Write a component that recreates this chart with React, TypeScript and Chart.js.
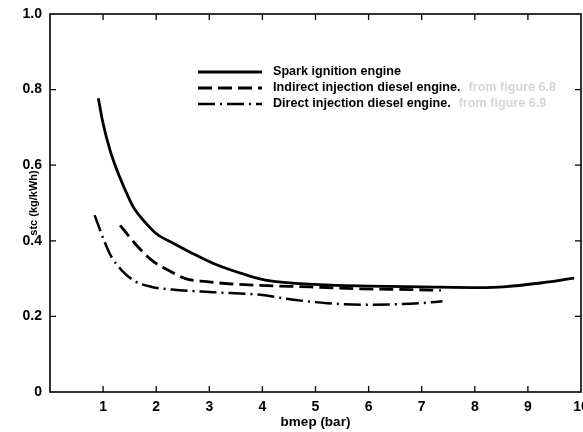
import React, { useEffect, useRef } from "react";
import { Chart, registerables } from "chart.js";

Chart.register(...registerables);

// ---- data (bmep in bar, sfc in kg/kWh) ----
const sparkX = [0.91, 1.0, 1.13, 1.26, 1.42, 1.57, 1.76, 2.01, 2.33, 2.64, 3.08, 3.71, 4.06, 5.06, 6.0, 7.0, 8.1, 8.6, 9.15, 9.87];
const sparkY = [0.777, 0.71, 0.64, 0.587, 0.533, 0.489, 0.454, 0.418, 0.393, 0.37, 0.34, 0.309, 0.296, 0.284, 0.28, 0.278, 0.276, 0.279, 0.287, 0.301];

const indirectX = [1.32, 1.6, 1.92, 2.23, 2.55, 2.95, 3.3, 3.96, 4.91, 5.85, 6.79, 7.36];
const indirectY = [0.441, 0.393, 0.348, 0.322, 0.3, 0.292, 0.287, 0.282, 0.278, 0.273, 0.271, 0.269];

const directX = [0.84, 1.04, 1.16, 1.35, 1.6, 1.92, 2.3, 3.08, 3.96, 4.59, 5.22, 5.85, 6.48, 6.98, 7.39];
const directY = [0.468, 0.393, 0.357, 0.322, 0.293, 0.278, 0.271, 0.264, 0.257, 0.244, 0.235, 0.231, 0.232, 0.235, 0.24];

const seriesNames = ["Spark ignition engine", "Indirect injection diesel engine.", "Direct injection diesel engine."];
const seriesNotes = ["", "from figure 6.8", "from figure 6.9"];

const xTickLabels = ["", "1", "2", "3", "4", "5", "6", "7", "8", "9", "10"];
const yTickLabels = ["0", "0.2", "0.4", "0.6", "0.8", "1.0"];

const xTitle = "bmep (bar)";
const yTitle = "stc (kg/kWh)";

const FONT = "'Liberation Sans', Arial, Helvetica, sans-serif";

const toPoints = (xs: number[], ys: number[]) => xs.map((x, i) => ({ x, y: ys[i] }));

const framePlugin = {
  id: "frameTicks",
  afterDatasetsDraw(chart: any) {
    const { ctx, chartArea } = chart;
    const { left, right, top, bottom } = chartArea;
    const xs = chart.scales.x;
    const ys = chart.scales.y;
    ctx.save();
    ctx.strokeStyle = "#000";
    ctx.lineWidth = 1.6;
    ctx.strokeRect(left, top, right - left, bottom - top);
    ctx.lineWidth = 1.3;
    const tl = 6;
    for (let v = 1; v <= 9; v++) {
      const px = xs.getPixelForValue(v);
      ctx.beginPath();
      ctx.moveTo(px, bottom);
      ctx.lineTo(px, bottom - tl);
      ctx.moveTo(px, top);
      ctx.lineTo(px, top + tl);
      ctx.stroke();
    }
    for (let i = 1; i < yTickLabels.length - 1; i++) {
      const py = ys.getPixelForValue(i * 0.2);
      ctx.beginPath();
      ctx.moveTo(left, py);
      ctx.lineTo(left + tl, py);
      ctx.moveTo(right, py);
      ctx.lineTo(right - tl, py);
      ctx.stroke();
    }
    ctx.restore();
  },
};

const legendPlugin = {
  id: "customLegend",
  afterDraw(chart: any) {
    const { ctx } = chart;
    const x0 = 198;
    const x1 = 262;
    const tx = 273;
    const rows = [72, 88, 104];
    ctx.save();
    chart.data.datasets.forEach((ds: any, i: number) => {
      const y = rows[i];
      ctx.strokeStyle = "#000";
      ctx.lineWidth = ds.borderWidth;
      ctx.setLineDash(ds.borderDash || []);
      ctx.beginPath();
      ctx.moveTo(x0, y);
      ctx.lineTo(x1, y);
      ctx.stroke();
      ctx.setLineDash([]);
      ctx.font = `bold 12.6px ${FONT}`;
      ctx.fillStyle = "#000";
      ctx.textBaseline = "middle";
      ctx.textAlign = "left";
      ctx.fillText(seriesNames[i], tx, y);
      if (seriesNotes[i]) {
        const w = ctx.measureText(seriesNames[i]).width;
        ctx.fillStyle = "#d6d6d6";
        ctx.fillText(seriesNotes[i], tx + w + 8, y);
      }
    });
    ctx.restore();
  },
};

export default function App() {
  const ref = useRef<HTMLCanvasElement | null>(null);
  useEffect(() => {
    if (!ref.current) return;
    const chart = new Chart(ref.current, {
      type: "line",
      data: {
        datasets: [
          {
            label: seriesNames[0],
            data: toPoints(sparkX, sparkY),
            borderColor: "#000",
            borderWidth: 2.8,
            borderDash: [],
            pointRadius: 0,
            cubicInterpolationMode: "monotone",
            fill: false,
          },
          {
            label: seriesNames[1],
            data: toPoints(indirectX, indirectY),
            borderColor: "#000",
            borderWidth: 2.8,
            borderDash: [14, 6],
            pointRadius: 0,
            cubicInterpolationMode: "monotone",
            fill: false,
          },
          {
            label: seriesNames[2],
            data: toPoints(directX, directY),
            borderColor: "#000",
            borderWidth: 2.5,
            borderDash: [17, 5, 2, 5],
            pointRadius: 0,
            cubicInterpolationMode: "monotone",
            fill: false,
          },
        ],
      },
      options: {
        responsive: false,
        animation: false,
        layout: { padding: { top: 14, right: 2, left: 0, bottom: 0 } },
        plugins: { legend: { display: false }, tooltip: { enabled: false } },
        scales: {
          x: {
            type: "linear",
            min: 0,
            max: 10,
            grid: { display: false, drawTicks: false },
            border: { display: false },
            ticks: {
              stepSize: 1,
              padding: 7,
              color: "#000",
              maxRotation: 0,
              font: { family: FONT, size: 14, weight: "bold" },
              callback: (v: any) => xTickLabels[Math.round(Number(v))] ?? "",
            },
            title: {
              display: true,
              text: xTitle,
              color: "#000",
              font: { family: FONT, size: 13.5, weight: "bold" },
              padding: { top: 0, bottom: 2 },
            },
            afterFit: (s: any) => {
              s.height = 40;
              s.paddingLeft = 0;
              s.paddingRight = 0;
            },
          },
          y: {
            type: "linear",
            min: 0,
            max: 1,
            grid: { display: false, drawTicks: false },
            border: { display: false },
            ticks: {
              stepSize: 0.2,
              padding: 8,
              color: "#000",
              font: { family: FONT, size: 14, weight: "bold" },
              callback: (v: any) => yTickLabels[Math.round(Number(v) / 0.2)] ?? "",
            },
            title: {
              display: true,
              text: yTitle,
              color: "#000",
              font: { family: FONT, size: 11, weight: "bold" },
              padding: { top: 27, bottom: 0 },
            },
            afterFit: (s: any) => {
              s.width = 50;
              s.paddingTop = 0;
              s.paddingBottom = 0;
            },
          },
        },
      },
      plugins: [framePlugin, legendPlugin],
    } as any);
    return () => chart.destroy();
  }, []);
  return (
    <div style={{ position: "fixed", left: 0, top: 0, width: 583, height: 432, background: "#fff" }}>
      <canvas ref={ref} width={583} height={432} />
    </div>
  );
}
